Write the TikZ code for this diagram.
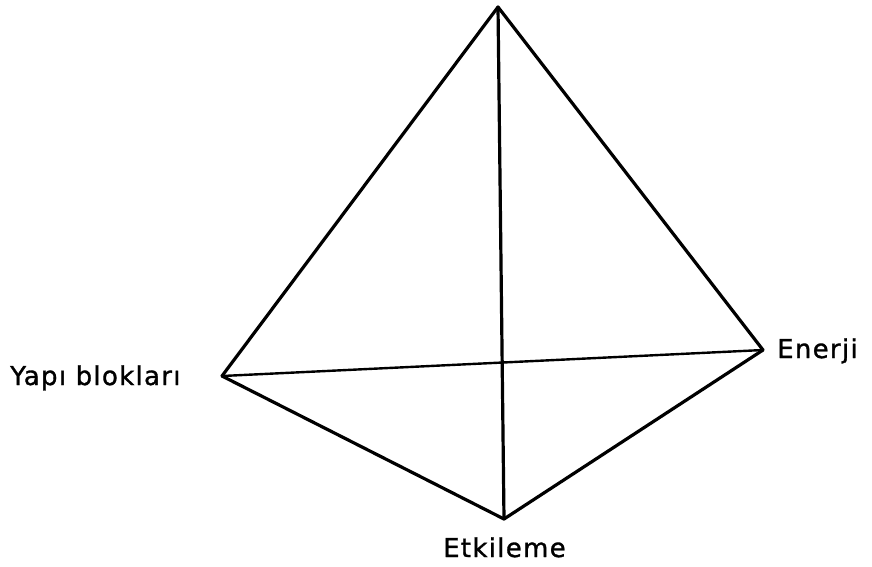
\documentclass[tikz,border=0pt]{standalone}
\usepackage{fontspec}
\setmainfont{DejaVu Sans}[LetterSpace=5,FakeBold=1.2]
\begin{document}
\begin{tikzpicture}[x=1pt,y=-1pt,
  edge/.style={line width=3.2pt,line join=round,line cap=round},
  lbl/.style={inner sep=0pt,font=\fontsize{26}{30}\selectfont}]
\useasboundingbox (0,0) rectangle (872,566);
\coordinate (T) at (498,7);
\coordinate (L) at (222,376);
\coordinate (R) at (763,350);
\coordinate (B) at (504,519);
\draw[edge] (T) -- (L);
\draw[edge] (T) -- (R);
\draw[edge] (T) -- (B);
\draw[edge] (L) -- (B);
\draw[edge] (R) -- (B);
\draw[line width=2.4pt] (L) -- (R);
\node[lbl,anchor=base west] (ly) at (10,385) {Yapı blokları};
\node[lbl,anchor=base west] (le) at (777,358) {Enerji};
\node[lbl,anchor=base west] (lk) at (443,557) {Etkileme};
\end{tikzpicture}
\end{document}
